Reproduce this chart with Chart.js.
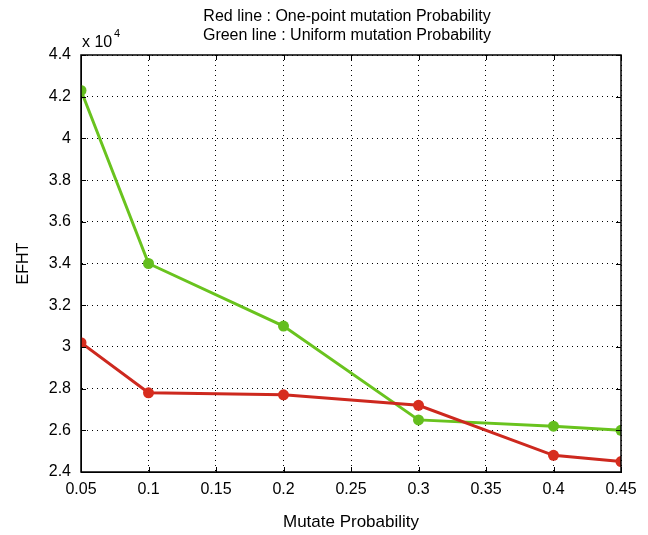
<!DOCTYPE html>
<html>
<head>
<meta charset="utf-8">
<script src="https://cdn.jsdelivr.net/npm/chart.js@4.4.0/dist/chart.umd.min.js"></script>
<style>
  body { margin: 0; background: #fff; }
  #wrap { width: 648px; height: 535px; }
</style>
</head>
<body>
<div id="wrap"><canvas id="myChart"></canvas></div>
<script>
// 데이터
const mutateProb = [0.05, 0.1, 0.2, 0.3, 0.4, 0.45];
const onePoint = [30200, 27800, 27700, 27200, 24800, 24500];
const uniform = [42300, 34000, 31000, 26500, 26200, 26000];
const xTicks = [0.05, 0.1, 0.15, 0.2, 0.25, 0.3, 0.35, 0.4, 0.45];
const titleLines = ['Red line : One-point mutation Probability', 'Green line : Uniform mutation Probability'];

const FONT = '"Liberation Sans", Arial, sans-serif';

function toPoints(ys) {
    return mutateProb.map(function(x, i) { return { x: x, y: ys[i] }; });
}

// 테두리, 안쪽 눈금, 제목, x 10^4
const frameAndText = {
    id: 'frameAndText',
    afterDraw(chart) {
        const ctx = chart.ctx;
        const a = chart.chartArea;
        const xs = chart.scales.x, ys = chart.scales.y;
        ctx.save();
        ctx.strokeStyle = '#000';
        ctx.lineWidth = 1.5;
        ctx.setLineDash([]);
        ctx.strokeRect(a.left, a.top, a.right - a.left, a.bottom - a.top);

        ctx.lineWidth = 1;
        ctx.beginPath();
        xs.ticks.forEach(function(t) {
            const px = Math.round(xs.getPixelForValue(t.value)) + 0.5;
            ctx.moveTo(px, a.top); ctx.lineTo(px, a.top + 5);
            ctx.moveTo(px, a.bottom); ctx.lineTo(px, a.bottom - 5);
        });
        ys.ticks.forEach(function(t) {
            const py = Math.round(ys.getPixelForValue(t.value)) + 0.5;
            ctx.moveTo(a.left, py); ctx.lineTo(a.left + 5, py);
            ctx.moveTo(a.right, py); ctx.lineTo(a.right - 5, py);
        });
        ctx.stroke();

        ctx.fillStyle = '#000';
        ctx.font = '16px ' + FONT;
        ctx.textAlign = 'center';
        ctx.textBaseline = 'middle';
        const cx = (a.left + a.right) / 2 - 4;
        ctx.fillText(titleLines[0], cx, 17);
        ctx.fillText(titleLines[1], cx, 36);

        ctx.textAlign = 'left';
        ctx.textBaseline = 'alphabetic';
        ctx.fillText('x 10', a.left + 1, 47);
        ctx.font = '11px ' + FONT;
        ctx.fillText('4', a.left + 33, 37);
        ctx.restore();
    }
};

let chartArea = document.getElementById('myChart').getContext('2d');

const myChart = new Chart(chartArea, {
    type: 'line',
    data: {
        datasets: [
            {
                label: 'One-point mutation',
                data: toPoints(onePoint),
                borderColor: 'rgb(205, 40, 30)',
                backgroundColor: 'rgb(215, 45, 30)',
                borderWidth: 3,
                pointRadius: 5.5,
                pointBorderWidth: 0,
                tension: 0
            },
            {
                label: 'Uniform mutation',
                data: toPoints(uniform),
                borderColor: 'rgb(105, 195, 30)',
                backgroundColor: 'rgb(100, 190, 30)',
                borderWidth: 3,
                pointRadius: 5.5,
                pointBorderWidth: 0,
                tension: 0
            }
        ]
    },
    options: {
        responsive: true,
        maintainAspectRatio: false,
        animation: false,
        layout: { padding: { top: 55, right: 27, left: 0, bottom: 0 } },
        plugins: {
            legend: { display: false },
            title: { display: false },
            tooltip: { enabled: false }
        },
        scales: {
            x: {
                type: 'linear',
                min: 0.05,
                max: 0.45,
                afterFit: function(scale) { scale.height = 63; },
                afterBuildTicks: function(scale) {
                    scale.ticks = xTicks.map(function(v) { return { value: v }; });
                },
                ticks: {
                    color: '#000',
                    font: { family: FONT, size: 16 },
                    padding: 8,
                    maxRotation: 0,
                    callback: function(v) { return String(Number(v.toFixed(2))); }
                },
                grid: { color: '#000', lineWidth: 1, drawTicks: false },
                border: { display: true, color: '#000', width: 1, dash: [1, 4] },
                title: {
                    display: true,
                    text: 'Mutate Probability',
                    color: '#000',
                    font: { family: FONT, size: 17 },
                    padding: { top: 0, bottom: 2 }
                }
            },
            y: {
                min: 24000,
                max: 44000,
                afterFit: function(scale) { scale.width = 81; },
                ticks: {
                    stepSize: 2000,
                    color: '#000',
                    font: { family: FONT, size: 16 },
                    padding: 10,
                    callback: function(v) { return String(Number((v / 10000).toFixed(1))); }
                },
                grid: { color: '#000', lineWidth: 1, drawTicks: false },
                border: { display: true, color: '#000', width: 1, dash: [1, 4] },
                title: {
                    display: true,
                    text: 'EFHT',
                    color: '#000',
                    font: { family: FONT, size: 16 },
                    padding: { top: 14, bottom: 0 }
                }
            }
        }
    },
    plugins: [frameAndText]
});
</script>
</body>
</html>
